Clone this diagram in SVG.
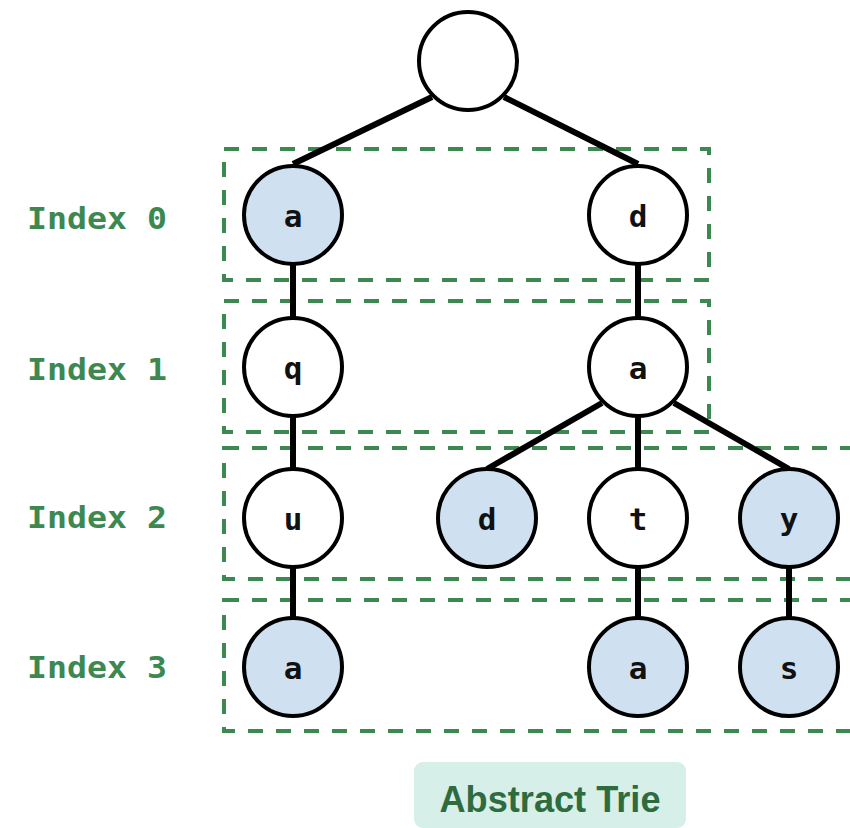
<svg xmlns="http://www.w3.org/2000/svg" width="850" height="828" viewBox="0 0 850 828">
  <style>
    .level { fill: none; stroke: #3d8751; stroke-width: 4; stroke-dasharray: 15 13; }
    .label { font-family: "DejaVu Sans Mono", monospace; font-weight: bold; font-size: 31px; fill: #3d8751; }
    .edge { stroke: #000; stroke-width: 6; fill: none; }
    .node circle { stroke: #000; stroke-width: 4; fill: #fff; }
    .node.end circle { fill: #cfe0f1; }
    .node text { font-family: "DejaVu Sans Mono", monospace; font-weight: bold; font-size: 31px; fill: #111; text-anchor: middle; }
  </style>

  <!-- level boxes -->
  <g id="levels">
    <rect class="level" x="224" y="149" width="485" height="131"/>
    <rect class="level" x="224" y="301" width="485" height="131"/>
    <rect class="level" x="224" y="448" width="640" height="131"/>
    <rect class="level" x="224" y="600" width="640" height="131"/>
  </g>

  <g id="labels">
    <text class="label" x="27" y="229" textLength="140" lengthAdjust="spacingAndGlyphs">Index 0</text>
    <text class="label" x="27" y="380" textLength="140" lengthAdjust="spacingAndGlyphs">Index 1</text>
    <text class="label" x="27" y="528" textLength="140" lengthAdjust="spacingAndGlyphs">Index 2</text>
    <text class="label" x="27" y="678" textLength="140" lengthAdjust="spacingAndGlyphs">Index 3</text>
  </g>

  <!-- connectors -->
  <g id="connectors">
    <line class="edge" x1="432" y1="97" x2="293" y2="164"/>
    <line class="edge" x1="504" y1="97" x2="638" y2="164"/>
    <line class="edge" x1="293" y1="264" x2="293" y2="318"/>
    <line class="edge" x1="293" y1="416" x2="293" y2="469"/>
    <line class="edge" x1="293" y1="567" x2="293" y2="618"/>
    <line class="edge" x1="638" y1="264" x2="638" y2="318"/>
    <line class="edge" x1="602" y1="403" x2="487" y2="469"/>
    <line class="edge" x1="638" y1="416" x2="638" y2="469"/>
    <line class="edge" x1="674" y1="403" x2="789" y2="469"/>
    <line class="edge" x1="638" y1="567" x2="638" y2="618"/>
    <line class="edge" x1="789" y1="567" x2="789" y2="618"/>
  </g>

  <!-- nodes -->
  <g id="root" class="node"><circle cx="468" cy="61" r="49"/></g>
  <g id="n0a" class="node end"><circle cx="293" cy="215" r="49"/><text x="293" y="227">a</text></g>
  <g id="n0d" class="node"><circle cx="638" cy="215" r="49"/><text x="638" y="227">d</text></g>
  <g id="n1q" class="node"><circle cx="293" cy="367" r="49"/><text x="293" y="379">q</text></g>
  <g id="n1a" class="node"><circle cx="638" cy="367" r="49"/><text x="638" y="379">a</text></g>
  <g id="n2u" class="node"><circle cx="293" cy="518" r="49"/><text x="293" y="530">u</text></g>
  <g id="n2d" class="node end"><circle cx="487" cy="518" r="49"/><text x="487" y="530">d</text></g>
  <g id="n2t" class="node"><circle cx="638" cy="518" r="49"/><text x="638" y="530">t</text></g>
  <g id="n2y" class="node end"><circle cx="789" cy="518" r="49"/><text x="789" y="530">y</text></g>
  <g id="n3a" class="node end"><circle cx="293" cy="667" r="49"/><text x="293" y="679">a</text></g>
  <g id="n3a2" class="node end"><circle cx="638" cy="667" r="49"/><text x="638" y="679">a</text></g>
  <g id="n3s" class="node end"><circle cx="789" cy="667" r="49"/><text x="789" y="679">s</text></g>

  <!-- caption -->
  <g id="caption">
    <rect x="414" y="762" width="272" height="66" rx="9" fill="#d6efe8"/>
    <text x="550" y="812" text-anchor="middle" font-family="'Liberation Sans', Arial, sans-serif" font-weight="bold" font-size="37" fill="#2e6b3e" textLength="221" lengthAdjust="spacingAndGlyphs">Abstract Trie</text>
  </g>
</svg>
